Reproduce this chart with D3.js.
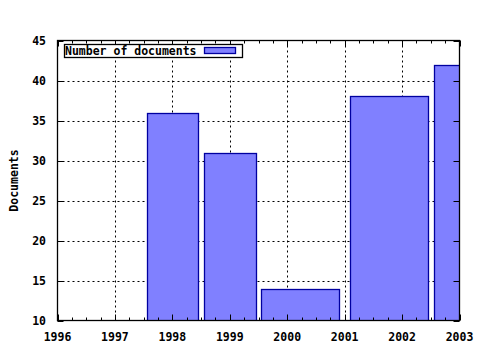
<!DOCTYPE html>
<html><head><meta charset="utf-8">
<script src="https://cdn.jsdelivr.net/npm/d3@7"></script>
<style>body{margin:0;background:#fff}svg{display:block}text{font-family:"DejaVu Sans Mono",monospace;font-weight:bold;font-size:11.5px;fill:#000}</style>
</head><body><svg id="c" width="480" height="350"></svg>
<script>
const years = [1998, 1999, 2000, 2002, 2003];
const docs = [36, 31, 14, 38, 42];
const xTicks = [1996, 1997, 1998, 1999, 2000, 2001, 2002, 2003];
const yTicks = [10, 15, 20, 25, 30, 35, 40, 45];
const seriesName = "Number of documents";
const yTitle = "Documents";
const boxFrac = 0.9;

const svg = d3.select("#c");
const x = d3.scaleLinear().domain([1996, 2003]).range([57.5, 459.5]);
const y = d3.scaleLinear().domain([10, 45]).range([320.5, 40.5]);
const L = x.range()[0], R = x.range()[1], T = y.range()[1], B = y.range()[0];

// grid
const g = svg.append("g");
g.selectAll(".gx").data(xTicks.slice(1, -1)).join("line")
  .attr("x1", d => Math.round(x(d)) + 0.5).attr("x2", d => Math.round(x(d)) + 0.5)
  .attr("y1", T).attr("y2", B)
  .attr("stroke", "#000").attr("stroke-width", 1).attr("stroke-dasharray", "2,3");
g.selectAll(".gy").data(yTicks.slice(1, -1)).join("line")
  .attr("y1", d => Math.round(y(d)) + 0.5).attr("y2", d => Math.round(y(d)) + 0.5)
  .attr("x1", L).attr("x2", R)
  .attr("stroke", "#000").attr("stroke-width", 1).attr("stroke-dasharray", "2,3");

// boxes, width from neighbours like gnuplot
const bars = years.map((yr, i) => {
  const prev = i > 0 ? years[i - 1] : null, next = i < years.length - 1 ? years[i + 1] : null;
  const dl = prev !== null ? yr - prev : next - yr;
  const dr = next !== null ? next - yr : yr - prev;
  return {x0: yr - dl / 2 * boxFrac, x1: yr + dr / 2 * boxFrac, v: docs[i]};
});
svg.append("clipPath").attr("id", "clip").append("rect")
  .attr("x", L).attr("y", T - 1).attr("width", R - L).attr("height", B - T + 1);
svg.append("g").attr("clip-path", "url(#clip)").selectAll("rect").data(bars).join("rect")
  .attr("x", d => Math.round(x(d.x0)) + 0.5)
  .attr("width", d => Math.round(x(d.x1)) - Math.round(x(d.x0)))
  .attr("y", d => Math.round(y(d.v)) + 0.5)
  .attr("height", d => Math.round(y(10)) - Math.round(y(d.v)))
  .attr("fill", "#8080ff").attr("stroke", "#0000a0").attr("stroke-width", 1.3);

// border
svg.append("rect").attr("x", L).attr("y", T).attr("width", R - L).attr("height", B - T)
  .attr("fill", "none").attr("stroke", "#000").attr("stroke-width", 1.3);

// ticks
const minor = [];
for (let i = 0; i < xTicks.length - 1; i++) for (let k = 1; k < 4; k++) minor.push(xTicks[i] + k / 4);
const tk = svg.append("g").attr("stroke", "#000").attr("stroke-width", 1);
tk.selectAll(".mb").data(xTicks).join("line")
  .attr("x1", d => Math.round(x(d)) + 0.5).attr("x2", d => Math.round(x(d)) + 0.5)
  .attr("y1", B).attr("y2", B - 6);
tk.selectAll(".mt").data(xTicks).join("line")
  .attr("x1", d => Math.round(x(d)) + 0.5).attr("x2", d => Math.round(x(d)) + 0.5)
  .attr("y1", T).attr("y2", T + 6);
tk.selectAll(".nb").data(minor).join("line")
  .attr("x1", d => Math.round(x(d)) + 0.5).attr("x2", d => Math.round(x(d)) + 0.5)
  .attr("y1", B).attr("y2", B - 3);
tk.selectAll(".nt").data(minor).join("line")
  .attr("x1", d => Math.round(x(d)) + 0.5).attr("x2", d => Math.round(x(d)) + 0.5)
  .attr("y1", T).attr("y2", T + 3);
tk.selectAll(".yl").data(yTicks).join("line")
  .attr("y1", d => Math.round(y(d)) + 0.5).attr("y2", d => Math.round(y(d)) + 0.5)
  .attr("x1", L).attr("x2", L + 6);
tk.selectAll(".yr").data(yTicks).join("line")
  .attr("y1", d => Math.round(y(d)) + 0.5).attr("y2", d => Math.round(y(d)) + 0.5)
  .attr("x1", R).attr("x2", R - 6);

// tick labels
svg.append("g").selectAll("text").data(xTicks).join("text")
  .attr("x", d => x(d)).attr("y", 341).attr("text-anchor", "middle").text(d => d);
svg.append("g").selectAll("text").data(yTicks).join("text")
  .attr("x", 46).attr("y", d => y(d) + 4).attr("text-anchor", "end").text(d => d);

// y title
svg.append("text").attr("transform", `translate(18,${(T + B) / 2}) rotate(-90)`)
  .attr("text-anchor", "middle").text(yTitle);

// legend
svg.append("rect").attr("x", 64.5).attr("y", 44.5).attr("width", 178).attr("height", 13)
  .attr("fill", "#fff").attr("stroke", "#000").attr("stroke-width", 1.3);
svg.append("text").attr("x", 65).attr("y", 55).text(seriesName);
svg.append("rect").attr("x", 204.5).attr("y", 47.5).attr("width", 31).attr("height", 6)
  .attr("fill", "#8080ff").attr("stroke", "#0000a0").attr("stroke-width", 1.3);
</script></body></html>
